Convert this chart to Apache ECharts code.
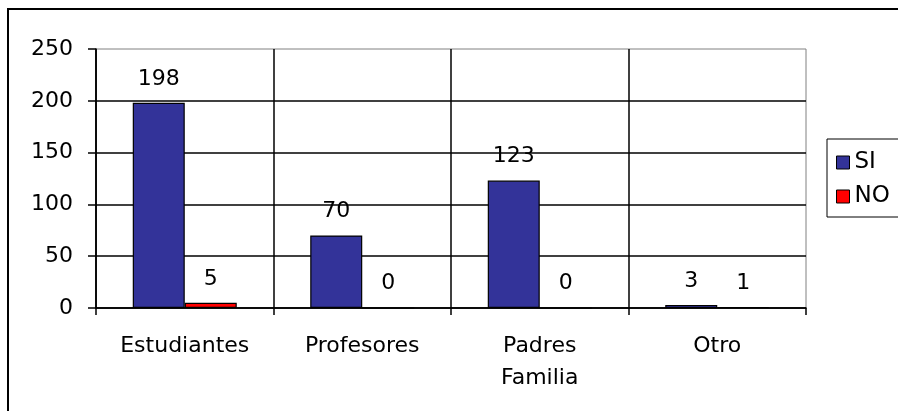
<!DOCTYPE html>
<html>
<head>
<meta charset="utf-8">
<script src="https://cdn.jsdelivr.net/npm/echarts@6/dist/echarts.min.js"></script>
<style>
  html, body { margin: 0; padding: 0; background: #fff; }
  #chart { width: 898px; height: 411px; }
</style>
</head>
<body>
<div id="chart"></div>
<script>
// datos
var categorias = ['Estudiantes', 'Profesores', 'Padres\nFamilia', 'Otro'];
var valoresSI = [198, 70, 123, 3];
var valoresNO = [5, 0, 0, 1];
var ticksY = [0, 50, 100, 150, 200, 250];

var fuente = 'DejaVu Sans';
var chart = echarts.init(document.getElementById('chart'));

var option = {
  backgroundColor: '#ffffff',
  animation: false,
  textStyle: { fontFamily: fuente, color: '#000' },
  graphic: [
    {
      type: 'rect',
      shape: { x: 8, y: 9, width: 1200, height: 1000 },
      style: { fill: 'none', stroke: '#000', lineWidth: 2 },
      silent: true
    }
  ],
  legend: {
    orient: 'vertical',
    left: 827,
    top: 139,
    padding: [12, 40, 9, 9],
    itemWidth: 13,
    itemHeight: 13,
    itemGap: 11,
    borderColor: '#000',
    borderWidth: 1,
    textStyle: { fontFamily: fuente, fontSize: 23, color: '#000' },
    data: [
      { name: 'SI', icon: 'rect', itemStyle: { color: '#333399', borderColor: '#000', borderWidth: 1 } },
      { name: 'NO', icon: 'rect', itemStyle: { color: '#ff0000', borderColor: '#000', borderWidth: 1 } }
    ]
  },
  grid: {
    show: true,
    left: 96,
    top: 49,
    right: 92,
    bottom: 103,
    borderColor: '#808080',
    borderWidth: 1,
    containLabel: false
  },
  xAxis: {
    type: 'category',
    data: categorias,
    axisLine: { lineStyle: { color: '#000', width: 1.5 } },
    axisTick: { show: true, length: 7, lineStyle: { color: '#000', width: 1.5 } },
    axisLabel: {
      margin: 22,
      fontFamily: fuente,
      fontSize: 22,
      lineHeight: 32,
      color: '#000'
    },
    splitLine: {
      show: true,
      showMaxLine: false,
      lineStyle: { color: '#000', width: 1.5 }
    }
  },
  yAxis: {
    type: 'value',
    min: ticksY[0],
    max: ticksY[ticksY.length - 1],
    interval: 50,
    axisLine: { show: true, lineStyle: { color: '#000', width: 1.5 } },
    axisTick: { show: true, length: 8, lineStyle: { color: '#000', width: 1.5 } },
    axisLabel: {
      margin: 23,
      fontFamily: fuente,
      fontSize: 22,
      color: '#000'
    },
    splitLine: {
      show: true,
      showMaxLine: false,
      lineStyle: { color: '#000', width: 1.5 }
    }
  },
  series: [
    {
      name: 'SI',
      type: 'bar',
      data: valoresSI,
      barWidth: 52,
      barGap: '0%',
      itemStyle: { color: '#333399', borderColor: '#000', borderWidth: 1.2 },
      label: {
        show: true,
        position: 'top',
        distance: 13,
        fontFamily: fuente,
        fontSize: 22,
        color: '#000'
      }
    },
    {
      name: 'NO',
      type: 'bar',
      data: valoresNO,
      barWidth: 52,
      barGap: '0%',
      itemStyle: { color: '#ff0000', borderColor: '#000', borderWidth: 1.2 },
      label: {
        show: true,
        position: 'top',
        distance: 13,
        fontFamily: fuente,
        fontSize: 22,
        color: '#000'
      }
    }
  ]
};

chart.setOption(option);
</script>
</body>
</html>
